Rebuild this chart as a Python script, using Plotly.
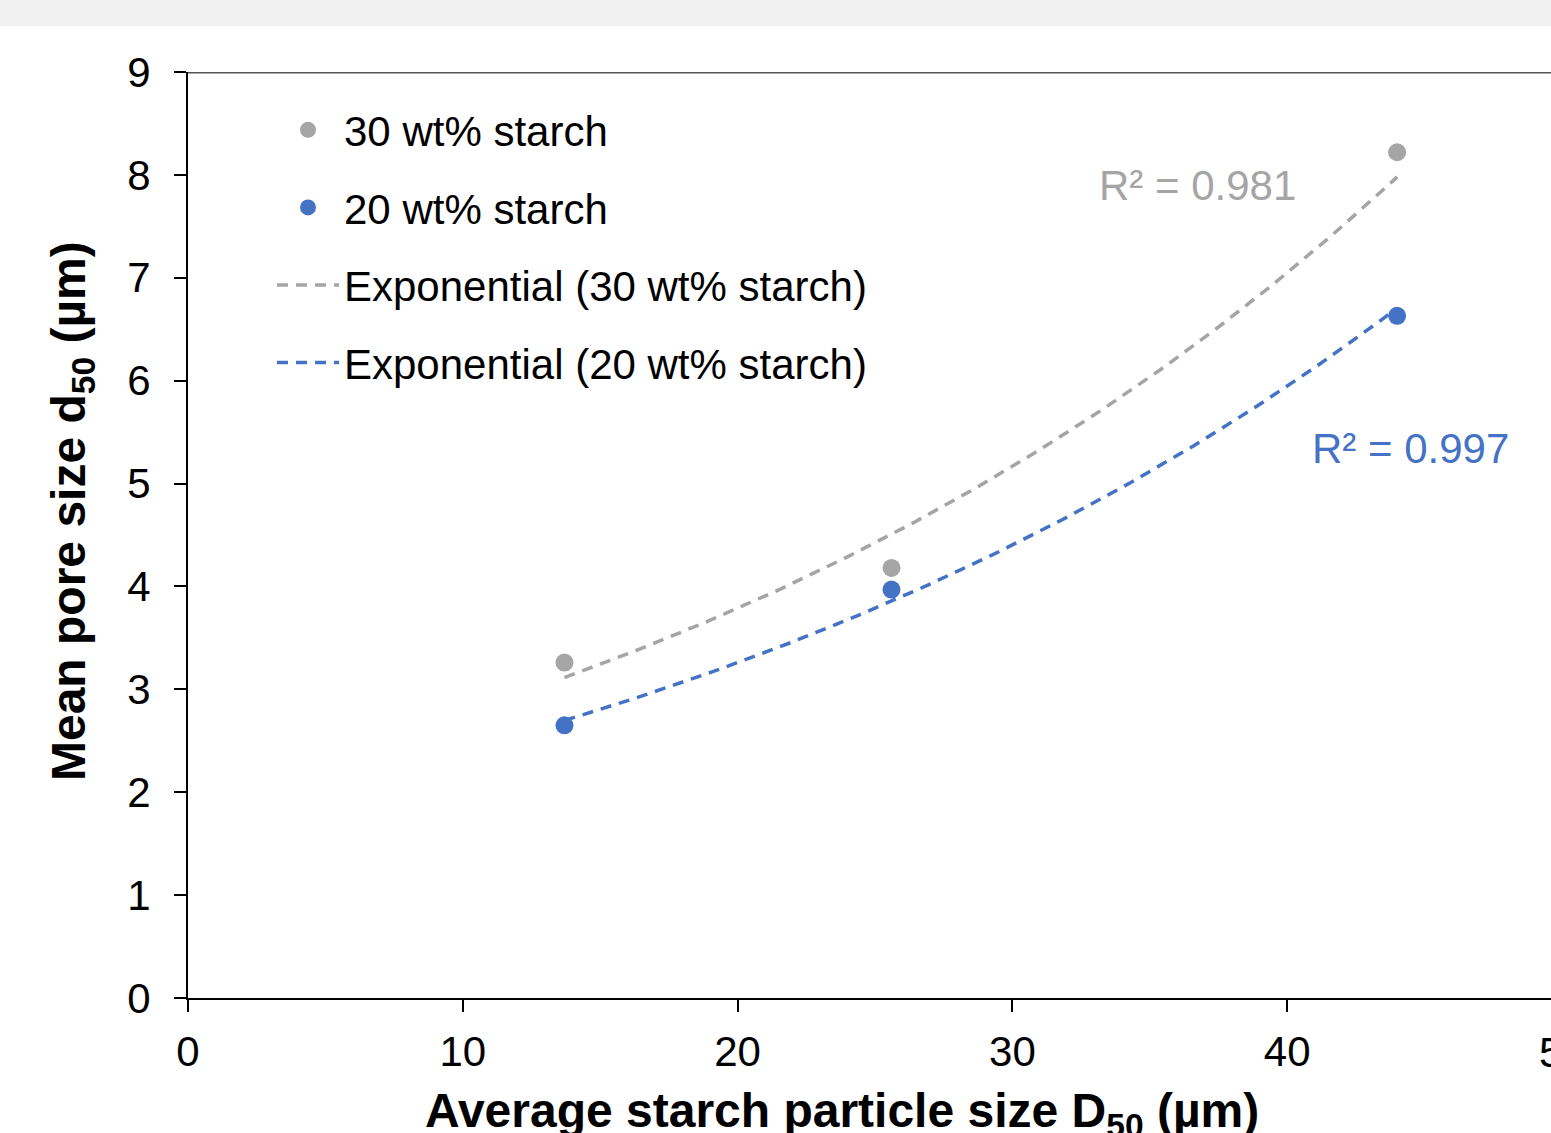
import numpy as np
import plotly.graph_objects as go

# ---- data ----
particle_d50 = [13.7, 25.6, 44.0]          # Average starch particle size D50 (µm)
pore_30wt = [3.26, 4.18, 8.22]             # Mean pore size d50 (µm), 30 wt% starch
pore_20wt = [2.65, 3.97, 6.63]             # Mean pore size d50 (µm), 20 wt% starch
r2_30wt_label = "R² = 0.981"
r2_20wt_label = "R² = 0.997"
x_ticks = [0, 10, 20, 30, 40]
y_ticks = [0, 1, 2, 3, 4, 5, 6, 7, 8, 9]

GRAY = "#a5a5a5"
BLUE = "#4472c4"
FONT = "Liberation Sans, Arial, sans-serif"


def exp_fit(x, y):
    """Exponential trendline y = a*exp(b*x) (least squares on ln y, as Excel does)."""
    b, ln_a = np.polyfit(np.asarray(x), np.log(np.asarray(y)), 1)
    xs = np.linspace(min(x), max(x), 120)
    return xs, np.exp(ln_a) * np.exp(b * xs)


fx30, fy30 = exp_fit(particle_d50, pore_30wt)
fx20, fy20 = exp_fit(particle_d50, pore_20wt)

fig = go.Figure()
fig.add_trace(go.Scatter(x=particle_d50, y=pore_30wt, mode="markers", name="30 wt% starch",
                         legendgroup="a", marker=dict(color=GRAY, size=18)))
fig.add_trace(go.Scatter(x=particle_d50, y=pore_20wt, mode="markers", name="20 wt% starch",
                         legendgroup="b", marker=dict(color=BLUE, size=18)))
fig.add_trace(go.Scatter(x=fx30, y=fy30, mode="lines", name="Exponential (30 wt% starch)",
                         legendgroup="c", line=dict(color=GRAY, width=3.5, dash="11px,8px")))
fig.add_trace(go.Scatter(x=fx20, y=fy20, mode="lines", name="Exponential (20 wt% starch)",
                         legendgroup="d", line=dict(color=BLUE, width=3.5, dash="11px,8px")))

W, H = 1551, 1133
L, R, T, B = 188, 0, 72, 135
pw, ph = W - L - R, H - T - B
x_per_px = 10 / 274.8
xmax = pw * x_per_px

fig.update_layout(
    width=W, height=H,
    margin=dict(l=L, r=R, t=T, b=B, pad=0),
    paper_bgcolor="white", plot_bgcolor="white",
    font=dict(family=FONT, size=42, color="black"),
    showlegend=True,
    legend=dict(x=(272 - L) / pw, y=1 - (96 - T) / ph, xanchor="left", yanchor="top",
                bgcolor="rgba(0,0,0,0)", font=dict(size=42, color="black"),
                tracegroupgap=20, itemwidth=62),
    xaxis=dict(range=[0, xmax], tickvals=x_ticks, showgrid=False, zeroline=False,
               showline=True, linecolor="black", linewidth=1.5,
               ticks="outside", ticklen=12, tickwidth=1.5, tickcolor="black",
               tickfont=dict(size=42), ticklabelstandoff=4),
    yaxis=dict(range=[0, 9], tickvals=y_ticks, showgrid=False, zeroline=False,
               showline=True, linecolor="black", linewidth=2,
               ticks="outside", ticklen=12, tickwidth=1.5, tickcolor="black",
               tickfont=dict(size=42), ticklabelstandoff=15),
    shapes=[
        # light gray strip at the very top of the image
        dict(type="rect", xref="paper", yref="paper", x0=-L / pw - 0.01, x1=1.01,
             y0=1 + (T - 26) / ph, y1=1 + T / ph + 0.01, fillcolor="#f0f0f0",
             line=dict(width=0), layer="below"),
        # top border of plot area
        dict(type="line", xref="paper", yref="y", x0=0, x1=1, y0=9, y1=9,
             line=dict(color="#555555", width=3)),
    ],
    annotations=[
        dict(text=r2_30wt_label, x=36.72, y=7.90, xref="x", yref="y", showarrow=False,
             xanchor="center", yanchor="middle", font=dict(size=42, color=GRAY)),
        dict(text=r2_20wt_label, x=44.47, y=5.345, xref="x", yref="y", showarrow=False,
             xanchor="center", yanchor="middle", font=dict(size=42, color=BLUE)),
        # clipped "50" tick label at the right edge
        dict(text="50", x=(1562 - L) / pw, y=-(1052 - 998) / ph, xref="paper", yref="paper",
             xanchor="center", yanchor="middle", showarrow=False,
             font=dict(size=42, color="black")),
        # axis titles
        dict(text="<b>Average starch particle size D<sub>50</sub> (µm)</b>",
             x=(842 - L) / pw, y=-(1114 - 998) / ph, xref="paper", yref="paper",
             xanchor="center", yanchor="middle",
             showarrow=False, font=dict(size=48, color="black")),
        dict(text="<b>Mean pore size d<sub>50</sub> (µm)</b>",
             x=-(L - 72) / pw, y=(998 - 511) / ph, xref="paper", yref="paper",
             xanchor="center", yanchor="middle",
             textangle=-90, showarrow=False, font=dict(size=48, color="black")),
    ],
)

fig.write_html("out.html", config={"displayModeBar": False},
               post_script="document.body.style.margin='0';")
